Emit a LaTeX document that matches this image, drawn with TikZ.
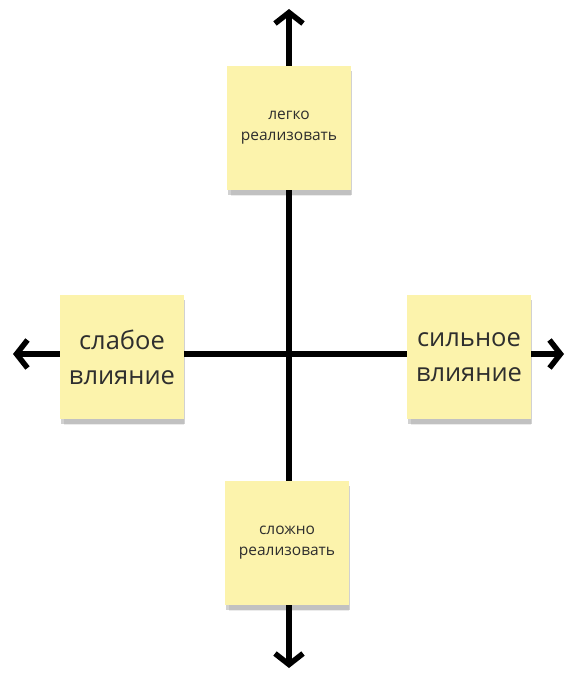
\documentclass[tikz,border=0pt]{standalone}
\usepackage{fontspec}
\setmainfont{Open Sans}
\usetikzlibrary{positioning, arrows.meta, shadows}

\definecolor{notefill}{HTML}{FCF3AC}
\definecolor{notetext}{HTML}{2E2E2E}

\tikzset{
    axis/.style={line width=5.5pt, {Straight Barb[length=11pt, width=28pt]}-{Straight Barb[length=11pt, width=28pt]}},
    note/.style={fill=notefill, minimum width=124pt, minimum height=124pt,
        align=center, text=notetext, inner sep=0pt,
        general shadow={shadow xshift=2pt, shadow yshift=-8pt, shadow scale=0.97, opacity=0.08, fill=black},
        drop shadow={shadow xshift=1pt, shadow yshift=-5pt, opacity=0.18, fill=black}},
    smalltext/.style={font=\fontsize{15.5}{21}\selectfont},
    bigtext/.style={font=\fontsize{25.5}{35}\selectfont}
}

\begin{document}
\begin{tikzpicture}[x=1pt, y=-1pt]

    % --- 0. 画像サイズ ---
    \useasboundingbox (0, 0) rectangle (565, 676);

    % --- 1. 座標軸の端点 ---
    \coordinate (top) at (289, 9);
    \coordinate (bottom) at (289, 668);
    \coordinate (left) at (13, 354);
    \coordinate (right) at (564, 354);

    % --- 2. 矢印付きの軸 ---
    \draw [axis] (bottom) -- (top);
    \draw [axis] (left) -- (right);

    % --- 3. 付箋 ---
    \node [note, smalltext] (easy) at (289, 128) {легко\\реализовать};
    \node [note, bigtext] (weak) at (122, 357) {слабое\\влияние};
    \node [note, bigtext] (strong) at (469, 357) {сильное\\влияние};
    \node [note, smalltext] (hard) at (287, 543) {сложно\\реализовать};

\end{tikzpicture}
\end{document}
